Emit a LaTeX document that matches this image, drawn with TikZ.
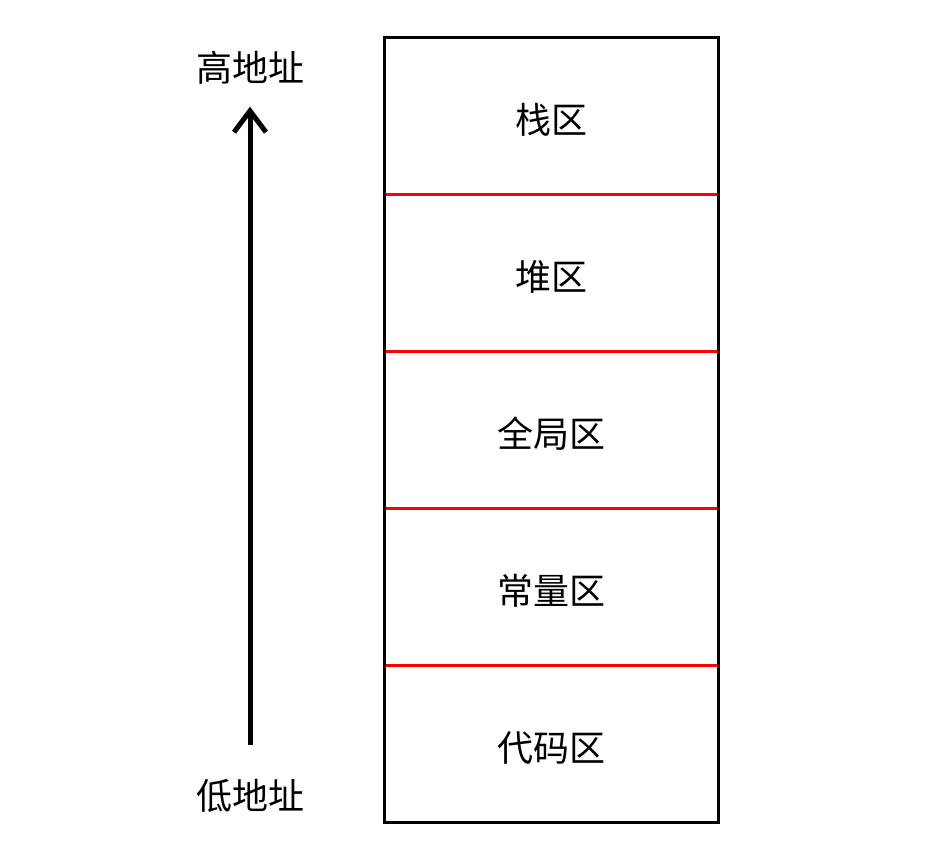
\documentclass[tikz,border=0pt]{standalone}
\usepackage{fontspec}
\newfontfamily\cjk{Noto Sans CJK SC}
\usetikzlibrary{arrows.meta,positioning}
\tikzstyle{zone}=[minimum width=250.5pt, minimum height=117.75pt, inner sep=0, outer sep=0, align=center, text height=30pt, text depth=3pt]
\tikzstyle{addr}=[align=center, inner sep=0]
\tikzstyle{divider}=[red, line width=2.25pt]

\begin{document}
\begin{tikzpicture}[x=0.75pt,y=-0.75pt,node distance=0pt,>={Straight Barb[length=16pt,width=24pt]},font=\cjk\fontsize{27}{31}\selectfont]
        \useasboundingbox (0,0) rectangle (932,850);
        \node [zone] (stack) at (551,115.5) {栈区};
        \node [zone] (heap) [below=of stack] {堆区};
        \node [zone] (global) [below=of heap] {全局区};
        \node [zone] (const) [below=of global] {常量区};
        \node [zone] (code) [below=of const] {代码区};
        \node [addr] (high) at (250,68) {高地址};
        \node [addr] (low) at (250,796) {低地址};
        \foreach \z in {stack,heap,global,const}
            \draw[divider] (\z.south west) -- (\z.south east);
        \draw[line width=2.25pt] (stack.north west) rectangle (code.south east);
        \draw[->,line width=3.75pt] ([yshift=38pt]low.center) -- ([yshift=-29pt]high.center);
    \end{tikzpicture}
\end{document}
